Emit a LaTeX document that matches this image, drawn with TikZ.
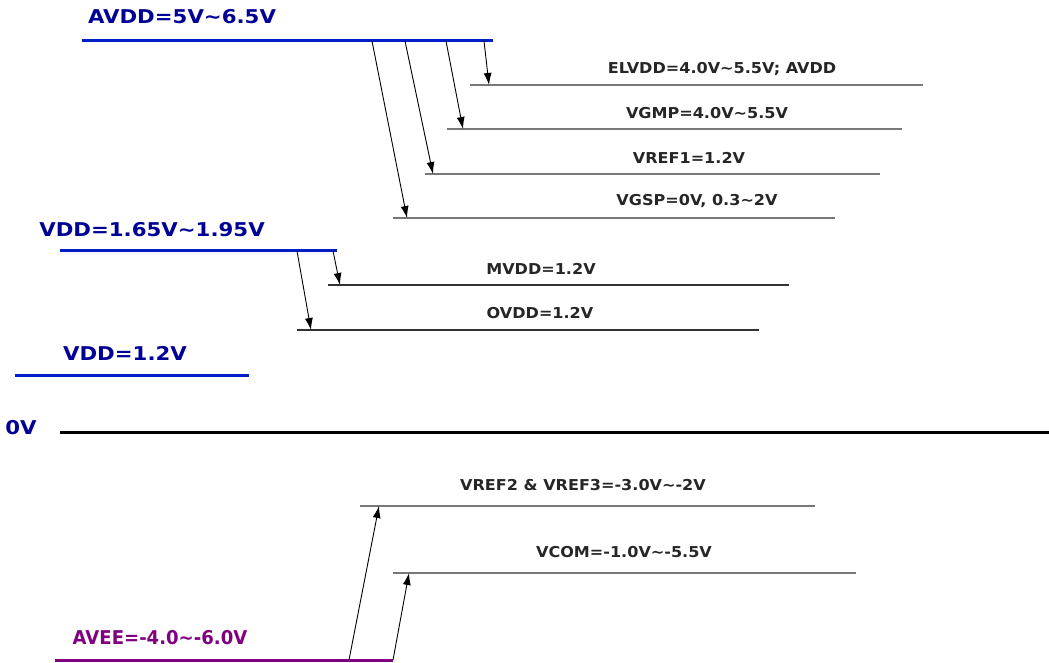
\documentclass[tikz,border=0pt]{standalone}
\usepackage{fontspec}
\usepackage{xcolor}
\usepackage{tikz}
\usetikzlibrary{arrows.meta}
\newfontfamily\railfont{DejaVu Sans}[FakeStretch=1.12]
\newfontfamily\negfont{DejaVu Sans}[FakeStretch=0.95]
\newfontfamily\levelfont{DejaVu Sans}[FakeStretch=1.07]
\definecolor{railblue}{RGB}{0,30,200}
\definecolor{labelblue}{RGB}{0,0,150}
\definecolor{railpurple}{RGB}{128,0,128}
\definecolor{levelgray}{RGB}{120,120,120}
\tikzset{
  raillabel/.style={font=\railfont\fontsize{9.5}{11}\selectfont\bfseries, text=labelblue, inner sep=0pt},
  levellabel/.style={font=\levelfont\fontsize{7.5}{9}\selectfont\bfseries, text=black!85, inner sep=0pt},
  railline/.style={line width=1.5pt, railblue},
  levelline/.style={line width=0.7pt, levelgray},
  feed/.style={-{Latex[length=6pt,width=4pt]}, line width=0.45pt, black}
}

\begin{document}
\begin{tikzpicture}[x=0.5pt,y=-0.5pt]
\useasboundingbox (0,0) rectangle (1049,663);

\node[raillabel] (avdd) at (182,17) {AVDD=5V\textasciitilde6.5V};
\coordinate (avddL) at (82,41);
\coordinate (avddR) at (493,41);
\draw[railline] (avddL) -- (avddR);
\coordinate (avdd1) at (484,41);
\coordinate (avdd2) at (446,41);
\coordinate (avdd3) at (405,41);
\coordinate (avdd4) at (372,41);

\node[levellabel] (elvdd) at (722,69) {ELVDD=4.0V\textasciitilde5.5V; AVDD};
\coordinate (elvddL) at (470,85);
\coordinate (elvddR) at (923,85);
\coordinate (elvddIn) at (489,85);
\draw[levelline] (elvddL) -- (elvddR);
\node[levellabel] (vgmp) at (707,113) {VGMP=4.0V\textasciitilde5.5V};
\coordinate (vgmpL) at (447,129);
\coordinate (vgmpR) at (902,129);
\coordinate (vgmpIn) at (463,129);
\draw[levelline] (vgmpL) -- (vgmpR);
\node[levellabel] (vref1) at (689,158) {VREF1=1.2V};
\coordinate (vref1L) at (425,174);
\coordinate (vref1R) at (880,174);
\coordinate (vref1In) at (433,174);
\draw[levelline] (vref1L) -- (vref1R);
\node[levellabel] (vgsp) at (697,201) {VGSP=0V, 0.3\textasciitilde2V};
\coordinate (vgspL) at (393,218);
\coordinate (vgspR) at (835,218);
\coordinate (vgspIn) at (407,218);
\draw[levelline] (vgspL) -- (vgspR);

\draw[feed] (avdd1) -- (elvddIn);
\draw[feed] (avdd2) -- (vgmpIn);
\draw[feed] (avdd3) -- (vref1In);
\draw[feed] (avdd4) -- (vgspIn);

\node[raillabel] (vddio) at (152,230) {VDD=1.65V\textasciitilde1.95V};
\coordinate (vddioL) at (60,251);
\coordinate (vddioR) at (337,251);
\draw[railline] (vddioL) -- (vddioR);
\coordinate (vddio1) at (333,251);
\coordinate (vddio2) at (297,251);

\node[levellabel] (mvdd) at (541,269) {MVDD=1.2V};
\coordinate (mvddL) at (328,285);
\coordinate (mvddR) at (789,285);
\coordinate (mvddIn) at (340,285);
\draw[levelline, black!80] (mvddL) -- (mvddR);
\node[levellabel] (ovdd) at (540,313) {OVDD=1.2V};
\coordinate (ovddL) at (297,330);
\coordinate (ovddR) at (759,330);
\coordinate (ovddIn) at (311,330);
\draw[levelline, black!80] (ovddL) -- (ovddR);

\draw[feed] (vddio1) -- (mvddIn);
\draw[feed] (vddio2) -- (ovddIn);

\node[raillabel] (vdd) at (125,353) {VDD=1.2V};
\coordinate (vddL) at (15,375);
\coordinate (vddR) at (249,375);
\draw[railline] (vddL) -- (vddR);

\node[raillabel] (gnd) at (21,428) {0V};
\coordinate (gndL) at (60,432);
\coordinate (gndR) at (1049,432);
\draw[line width=1.5pt, black] (gndL) -- (gndR);

\node[levellabel] (vref2) at (583,485) {VREF2 \& VREF3=-3.0V\textasciitilde-2V};
\coordinate (vref2L) at (360,506);
\coordinate (vref2R) at (815,506);
\coordinate (vref2In) at (379,506);
\draw[levelline] (vref2L) -- (vref2R);
\node[levellabel] (vcom) at (624,552) {VCOM=-1.0V\textasciitilde-5.5V};
\coordinate (vcomL) at (393,573);
\coordinate (vcomR) at (856,573);
\coordinate (vcomIn) at (409,573);
\draw[levelline] (vcomL) -- (vcomR);

\node[raillabel, font=\negfont\fontsize{9.5}{11}\selectfont\bfseries, text=railpurple] (avee) at (160,638) {AVEE=-4.0\textasciitilde-6.0V};
\coordinate (aveeL) at (55,660);
\coordinate (aveeR) at (393,660);
\draw[railline, railpurple] (aveeL) -- (aveeR);
\coordinate (avee1) at (349,660);
\coordinate (avee2) at (393,660);

\draw[feed] (avee1) -- (vref2In);
\draw[feed] (avee2) -- (vcomIn);
\end{tikzpicture}
\end{document}
